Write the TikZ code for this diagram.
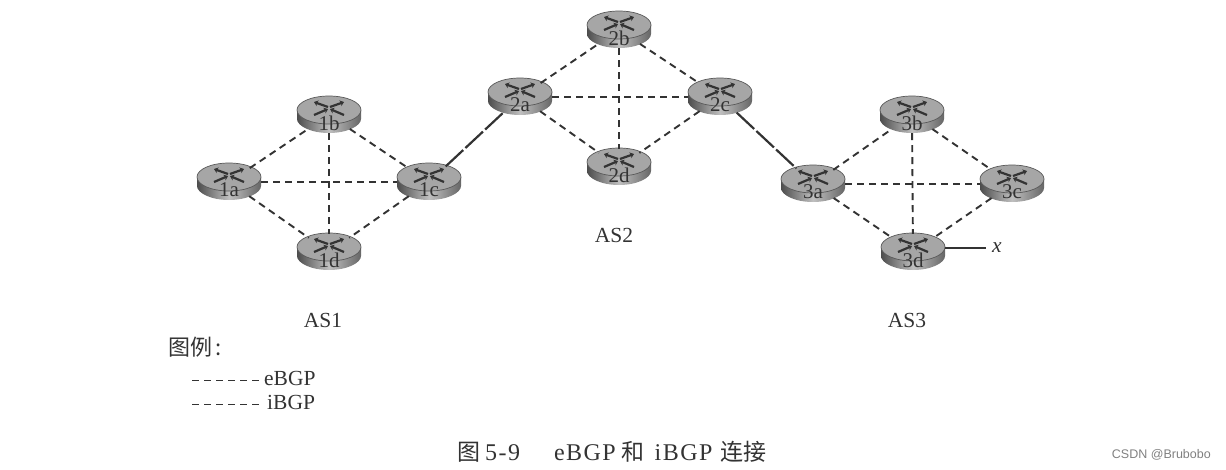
\documentclass[tikz,border=0pt]{standalone}
\usepackage{fontspec}
\setmainfont{Liberation Serif}
\newfontfamily\cjk{Noto Sans CJK SC}
\newfontfamily\capfont[LetterSpace=6]{Liberation Serif}
\newfontfamily\wmfont{Liberation Sans}
\usetikzlibrary{arrows.meta,shapes.geometric}
\definecolor{inkdark}{gray}{0.2}
\begin{document}
\begin{tikzpicture}[
x=1pt,y=-1pt,
routerbody/.style={ellipse,minimum width=64pt,minimum height=36pt,inner sep=0pt},
routertext/.style={inner sep=0pt,font=\fontsize{21}{21}\selectfont,text=inkdark},
ibgp/.style={draw=inkdark,line width=1.9pt,dash pattern=on 7pt off 5pt},
ebgp/.style={draw=inkdark,line width=2.2pt,dash pattern=on 24pt off 3pt},
keyline/.style={draw=inkdark,line width=0.9pt,dash pattern=on 7pt off 5pt},
astext/.style={inner sep=0pt,font=\fontsize{21.5}{22}\selectfont,text=inkdark},
arm/.style={-{Stealth[length=4pt,width=6pt]},line width=2.2pt,draw=black!80,fill=black!80}
]
\useasboundingbox (0,0) rectangle (1226,469);
\foreach \name/\px/\py/\txt in {1a/229/182/1a,1b/329/115/1b,1c/429/182/1c,1d/329/252/1d,
  2a/520/97/2a,2b/619/30/2b,2c/720/97/2c,2d/619/167/2d,
  3a/813/184/3a,3b/912/115/3b,3c/1012/184/3c,3d/913/252/3d}{
  \node[routerbody] (\name) at (\px,\py) {};
  \begin{scope}[shift={(\px,\py)}]
    \shade[left color=black!70,right color=black!60,middle color=black!25]
      (-32,-5) -- (-32,4) .. controls (-32,11) and (-18,18) .. (0,18)
      .. controls (18,18) and (32,11) .. (32,4) -- (32,-5) -- cycle;
    \filldraw[fill=black!35,draw=black!65,line width=0.7pt] (0,-5) ellipse [x radius=32pt,y radius=14pt];
    \draw[arm] (-1,-8) -- (-15,-13);
    \draw[arm] (1,-8) -- (15,-13);
    \draw[arm] (-15,0) -- (-1,-6);
    \draw[arm] (15,0) -- (1,-6);
  \end{scope}
  \node[routertext] (\name txt) at (\px,\py+8) {\txt};
}
% AS1
\draw[ibgp] (1a) -- (1b);
\draw[ibgp] (1a) -- (1c);
\draw[ibgp] (1a) -- (1d);
\draw[ibgp] (1b) -- (1c);
\draw[ibgp] (1b) -- (1d);
\draw[ibgp] (1c) -- (1d);
% AS2
\draw[ibgp] (2a) -- (2b);
\draw[ibgp] (2a) -- (2c);
\draw[ibgp] (2a) -- (2d);
\draw[ibgp] (2b) -- (2c);
\draw[ibgp] (2b) -- (2d);
\draw[ibgp] (2c) -- (2d);
% AS3
\draw[ibgp] (3a) -- (3b);
\draw[ibgp] (3a) -- (3c);
\draw[ibgp] (3a) -- (3d);
\draw[ibgp] (3b) -- (3c);
\draw[ibgp] (3b) -- (3d);
\draw[ibgp] (3c) -- (3d);
% between the systems
\draw[ebgp] (1c) -- (2a);
\draw[ebgp] (2c) -- (3a);

\node[astext,font=\fontsize{21.5}{22}\selectfont\itshape] (hostx) at (997,248) {x};
\draw[draw=inkdark,line width=1.1pt,shorten >=6pt] (3d.east |- hostx) -- (hostx.west);

\node[astext] (as1) at (323,320) {AS1};
\node[astext] (as2) at (614,235) {AS2};
\node[astext] (as3) at (907,320) {AS3};

\node[astext,anchor=west,font=\cjk\fontsize{22}{22}\selectfont] (keyhead) at (168,347) {图例\hspace{3pt}:};
\node[astext,anchor=west] (ebgpkey) at (264,378) {eBGP};
\node[astext,anchor=west] (ibgpkey) at (267,402) {iBGP};
\coordinate (ebgpfree) at (192,380);
\coordinate (ibgpfree) at (192,404);
\draw[keyline] (ebgpfree) -- (ebgpkey.west |- ebgpfree);
\draw[keyline,shorten >=8pt] (ibgpfree) -- (ibgpkey.west |- ibgpfree);

\node[astext,anchor=west,font=\capfont\fontsize{24}{24}\selectfont] (caption) at (457,452)
  {{\cjk\fontsize{23}{23}\selectfont 图}\hspace{5pt}5-9\hspace{34pt}eBGP\hspace{6pt}{\cjk\fontsize{23}{23}\selectfont 和}\hspace{10pt}iBGP\hspace{8pt}{\cjk\fontsize{23}{23}\selectfont 连接}};
\node[inner sep=0pt,font=\wmfont\fontsize{12.5}{13}\selectfont,text=black!50,anchor=east] (mark) at (1211,455) {CSDN @Brubobo};
\end{tikzpicture}
\end{document}
